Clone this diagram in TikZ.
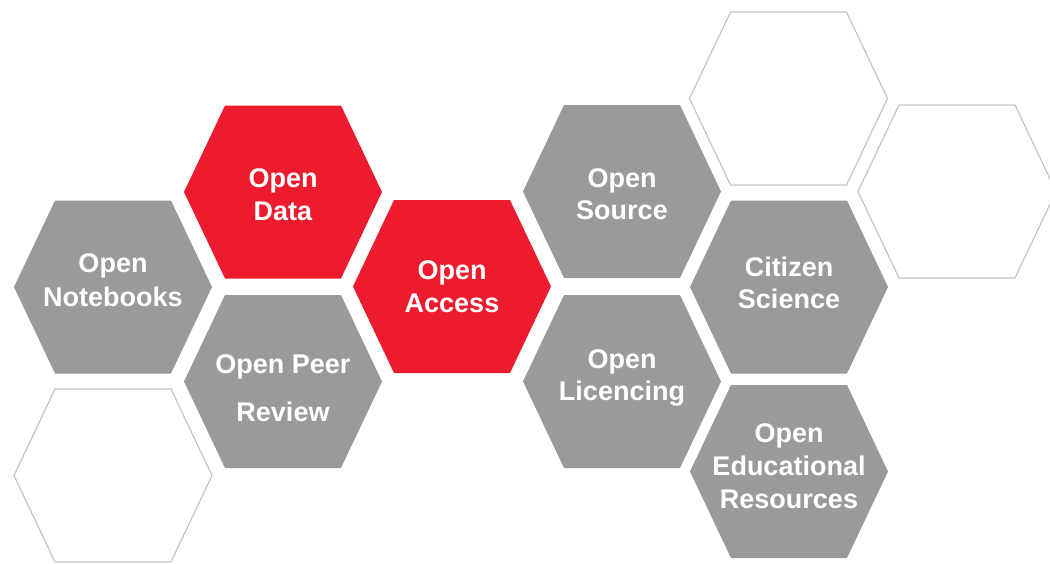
\documentclass[tikz,border=0pt]{standalone}
\usepackage{fontspec}
\setmainfont{Liberation Sans}
\definecolor{hexred}{HTML}{EC1C2E}
\definecolor{hexgray}{HTML}{9A9A9A}
\definecolor{hexline}{HTML}{C4C4C4}
\tikzset{
  hexa/.pic={\path[pic actions] (-99,0)--(-58,-86.5)--(58,-86.5)--(99,0)--(58,86.5)--(-58,86.5)--cycle;},
  redhex/.style={fill=hexred},
  grayhex/.style={fill=hexgray},
  emptyhex/.style={fill=white,draw=hexline,line width=1.2pt,line join=miter},
  hextext/.style={anchor=base,text=white,inner sep=0pt,
    font=\fontsize{27}{33}\selectfont\bfseries},
}
\newcommand{\hexlabel}[2][33]{{\fontsize{27}{#1}\selectfont\begin{tabular}[t]{@{}c@{}}#2\end{tabular}}}
\begin{document}
\begin{tikzpicture}[x=1pt,y=-1pt]
\useasboundingbox (0,0) rectangle (1050,563);
\clip (0,0) rectangle (1050,563);
% hexagons
\pic[emptyhex] at (113,475.5) {hexa};
\pic[emptyhex] at (788.5,98.5) {hexa};
\pic[emptyhex] at (957,191.5) {hexa};
\pic[grayhex] at (113,287) {hexa};
\pic[redhex] at (283,192) {hexa};
\pic[grayhex] at (283,381.5) {hexa};
\pic[redhex] at (452,286.5) {hexa};
\pic[grayhex] at (622,191.5) {hexa};
\pic[grayhex] at (622,381.5) {hexa};
\pic[grayhex] at (789,287) {hexa};
\pic[grayhex] at (789,471.5) {hexa};
% labels
\node[hextext] (notebooks) at (113,272) {\hexlabel[34]{Open\\Notebooks}};
\node[hextext] (data) at (283,187) {\hexlabel[33]{Open\\Data}};
\node[hextext] (peer) at (283,373) {\hexlabel[48]{Open Peer\\Review}};
\node[hextext] (access) at (452,279) {\hexlabel[33]{Open\\Access}};
\node[hextext] (source) at (622,187) {\hexlabel[32]{Open\\Source}};
\node[hextext] (licencing) at (622,368) {\hexlabel[32]{Open\\Licencing}};
\node[hextext] (citizen) at (789,276) {\hexlabel[32]{Citizen\\Science}};
\node[hextext] (oer) at (789,442) {\hexlabel[33]{Open\\Educational\\Resources}};
\end{tikzpicture}
\end{document}
